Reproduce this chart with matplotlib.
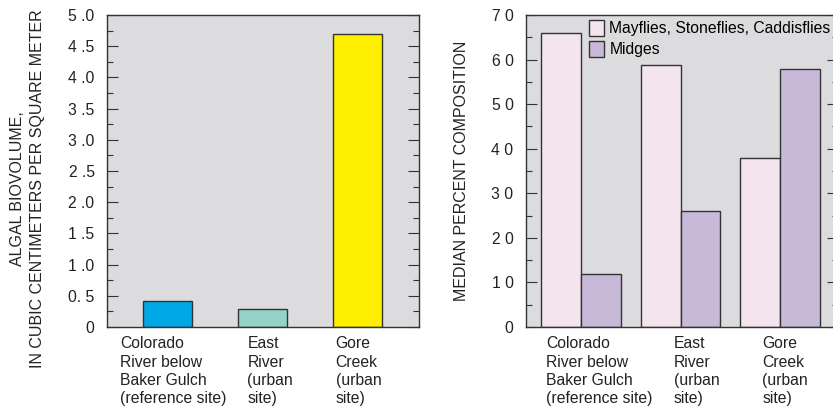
import matplotlib
matplotlib.use('Agg')
import matplotlib.pyplot as plt
from matplotlib.ticker import MultipleLocator

plt.rcParams['font.family'] = ['Liberation Sans', 'DejaVu Sans']

# Data
sites = ["Colorado\nRiver below\nBaker Gulch\n(reference site)",
         "East\nRiver\n(urban\nsite)",
         "Gore\nCreek\n(urban\nsite)"]
algal_biovolume = [0.41, 0.29, 4.69]
algal_colors = ['#00A8E6', '#95D3C8', '#FFEF00']

mayflies = [66, 58.7, 38]
midges = [12, 26, 57.8]
invert_labels = ["Mayflies, Stoneflies, Caddisflies", "Midges"]
invert_colors = ['#F4E4EE', '#C9B9D9']

left_yticks = [0, 0.5, 1.0, 1.5, 2.0, 2.5, 3.0, 3.5, 4.0, 4.5, 5.0]
left_yticklabels = ['0', '0. 5', '1 .0', '1 .5', '2 .0', '2 .5', '3 .0', '3 .5', '4 .0', '4 .5', '5 .0']
right_yticks = [0, 10, 20, 30, 40, 50, 60, 70]
right_yticklabels = ['0', '1 0', '2 0', '3 0', '4 0', '5 0', '6 0', '7 0']

bg = '#DCDCDE'
edge = '#333333'
fs = 11.3

fig = plt.figure(figsize=(8.33, 4.08), dpi=100)
ax1 = fig.add_axes([0.1285, 0.1985, 0.3745, 0.7645])
ax2 = fig.add_axes([0.6315, 0.1985, 0.3745, 0.7645])

for ax in (ax1, ax2):
    ax.set_facecolor(bg)
    for s in ax.spines.values():
        s.set_color(edge)
        s.set_linewidth(1.0)
    ax.set_xticks([])
    ax.tick_params(axis='y', which='major', direction='in', length=8, width=0.8,
                   color=edge, left=True, right=True, labelsize=fs, pad=9,
                   labelcolor='#222222')
    ax.tick_params(axis='y', which='minor', direction='in', length=4, width=0.8,
                   color=edge, left=True, right=True)

# Left panel: algal biovolume
x = range(len(sites))
ax1.bar(x, algal_biovolume, width=0.52, color=algal_colors, edgecolor=edge, linewidth=1.0)
ax1.set_xlim(-0.64, 2.65)
ax1.set_ylim(0, 5.0)
ax1.set_yticks(left_yticks)
ax1.set_yticklabels(left_yticklabels)
ax1.yaxis.set_minor_locator(MultipleLocator(0.25))
ax1.set_ylabel("ALGAL BIOVOLUME,\nIN CUBIC CENTIMETERS PER SQUARE METER",
               fontsize=11.5, linespacing=1.35, color='#222222')
ax1.yaxis.set_label_coords(-0.2, 0.445)
left_label_x = [-0.50, -0.16, -0.23]
for i, lab in enumerate(sites):
    ax1.text(i + left_label_x[i], -0.03, lab, transform=ax1.get_xaxis_transform(),
             ha='left', va='top', fontsize=fs, linespacing=1.28, color='#222222')

# Right panel: invertebrate composition
w = 0.40
xs = list(range(len(sites)))
ax2.bar([i - w / 2 for i in xs], mayflies, width=w, color=invert_colors[0],
        edgecolor=edge, linewidth=1.0, label=invert_labels[0])
ax2.bar([i + w / 2 for i in xs], midges, width=w, color=invert_colors[1],
        edgecolor=edge, linewidth=1.0, label=invert_labels[1])
ax2.set_xlim(-0.55, 2.58)
ax2.set_ylim(0, 70)
ax2.set_yticks(right_yticks)
ax2.set_yticklabels(right_yticklabels)
ax2.yaxis.set_minor_locator(MultipleLocator(5))
ax2.set_ylabel("MEDIAN PERCENT COMPOSITION", fontsize=11.5, labelpad=16, color='#222222')
right_label_x = [-0.35, -0.07, -0.18]
for i, lab in enumerate(sites):
    ax2.text(i + right_label_x[i], -0.03, lab, transform=ax2.get_xaxis_transform(),
             ha='left', va='top', fontsize=fs, linespacing=1.28, color='#222222')

ax2.legend(loc='upper left', bbox_to_anchor=(0.202, 0.985), frameon=False,
           fontsize=fs, handlelength=0.95, handleheight=1.2, handletextpad=0.35,
           labelspacing=0.3, borderaxespad=0, borderpad=0)

fig.savefig('out.png', dpi=100)
